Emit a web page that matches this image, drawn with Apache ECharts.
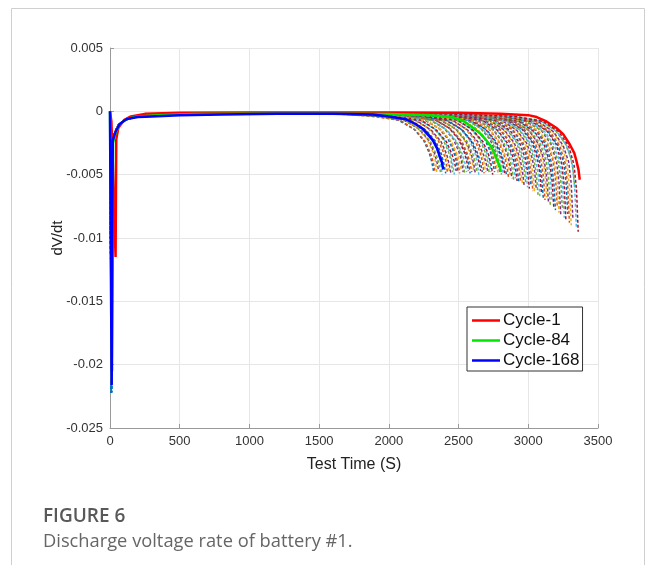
<!DOCTYPE html>
<html>
<head>
<meta charset="utf-8">
<script src="https://cdn.jsdelivr.net/npm/echarts@6/dist/echarts.min.js"></script>
<style>
html,body{margin:0;padding:0;background:#fff;}
#chart{width:657px;height:565px;}
</style>
</head>
<body>
<div id="chart"></div>
<script>
// ---- Axis ticks ----
const xTicks = [0, 500, 1000, 1500, 2000, 2500, 3000, 3500];
const yTicks = [0.005, 0, -0.005, -0.01, -0.015, -0.02, -0.025];

// ---- Highlighted cycles: [time (s), dV/dt] ----
const cycle1 = [[0,0],[10,-0.0008],[20,-0.004],[30,-0.008],[40,-0.0115],[45,-0.0022],[60,-0.0013],[100,-0.0007],[150,-0.0004],[250,-0.0002],[500,-0.00012],[1000,-0.0001],[1500,-0.0001],[2000,-0.0001],[2500,-0.00012],[2800,-0.0002],[3000,-0.0003],[3060,-0.00045],[3130,-0.0008],[3200,-0.0013],[3250,-0.0018],[3297,-0.0026],[3330,-0.0033],[3345,-0.0039],[3360,-0.0046],[3369,-0.0054]];
const cycle84 = [[0,0],[8,-0.012],[15,-0.0205],[22,-0.0025],[40,-0.0017],[70,-0.001],[120,-0.0006],[200,-0.0004],[350,-0.0003],[600,-0.00022],[1000,-0.0002],[1500,-0.0002],[2000,-0.00022],[2300,-0.0003],[2459,-0.00047],[2540,-0.0008],[2603,-0.0013],[2660,-0.0018],[2700,-0.0023],[2735,-0.0028],[2760,-0.0034],[2782,-0.004],[2796,-0.0044],[2803,-0.0048]];
const cycle168 = [[0,0],[5,-0.01],[12,-0.0216],[20,-0.0023],[40,-0.0016],[70,-0.001],[120,-0.0006],[200,-0.00045],[300,-0.0004],[500,-0.0003],[800,-0.00025],[1200,-0.0002],[1600,-0.0002],[1885,-0.00025],[2004,-0.0004],[2124,-0.00063],[2190,-0.001],[2244,-0.0014],[2285,-0.0019],[2316,-0.0023],[2345,-0.0029],[2366,-0.0036],[2380,-0.004],[2390,-0.0046]];

// ---- Other cycles (dashed) ----
// shared start / flat portion
const dashedEarlyT = [0, 10, 18, 30, 60, 100, 180, 300, 500, 800, 1200, 1600, 2000, 2400];
const dashedEarlyV = [0, -0.021, -0.0022, -0.0018, -0.0011, -0.0007, -0.00045, -0.00032, -0.00025, -0.0002, -0.00018, -0.00018, -0.00019, -0.0002];
const dashedSpikeV = [-0.0222, -0.0208, -0.0212, -0.0205, -0.0215, -0.021, -0.0203];
// knee sample times relative to each cycle's end (s)
const kneeOffsets = [-450, -250, -140, -70, -30, -12, 0];
// end time of each dashed cycle (s)
const dashedEndTimes = [2320,2332,2345,2357,2370,2382,2395,2408,2420,2433,2445,2458,2470,2483,2495,2508,2520,2533,2545,2558,2570,2583,2595,2608,2620,2633,2645,2658,2670,2683,2695,2708,2720,2733,2745,2758,2770,2783,2795,2808,2820,2833,2845,2858,2870,2883,2895,2908,2920,2933,2945,2958,2970,2983,2995,3008,3020,3033,3045,3058,3070,3083,3095,3108,3120,3133,3145,3158,3170,3183,3195,3208,3220,3233,3245,3258,3270,3283,3295,3308,3320,3333,3345,3358];
// knee values of each dashed cycle: magnitude of the (negative) slope, in units of 1e-4 V/s
const dashedKneeE4 = [
  [3,7,14,23,33,40,47],[4,7,15,24,34,41,48],[3,6,13,22,32,39,49],[3,7,14,23,33,40,47],
  [4,7,15,24,34,41,48],[3,6,13,22,32,40,50],[3,7,14,23,33,40,47],[4,7,15,24,34,42,49],
  [3,6,13,22,32,39,48],[3,7,14,23,33,40,47],[4,7,15,24,34,42,49],[3,6,13,22,32,39,48],
  [3,7,14,23,33,41,50],[4,7,15,24,34,40,47],[3,6,13,22,32,39,48],[3,7,14,23,33,41,49],
  [4,7,15,24,34,40,47],[3,6,13,22,32,39,48],[3,7,14,23,33,41,50],[4,7,15,24,34,41,48],
  [3,6,13,22,32,39,47],[3,7,14,23,33,41,49],[4,7,15,24,34,41,48],[3,6,13,22,32,39,47],
  [3,7,14,23,33,41,49],[4,7,15,24,34,41,48],[3,6,13,22,32,40,50],[3,7,14,23,33,40,47],
  [4,7,15,24,34,41,48],[3,6,13,22,32,40,49],[3,7,14,23,33,41,48],[4,7,15,24,34,40,47],
  [3,6,13,22,32,40,49],[3,7,14,23,33,41,48],[4,7,15,24,34,42,50],[3,6,13,22,32,40,48],
  [3,7,14,23,33,40,47],[4,7,15,24,34,41,49],[3,6,13,22,32,40,48],[3,7,14,23,34,42,50],
  [4,7,15,24,34,41,49],[3,7,14,24,35,43,50],[4,7,15,25,36,44,51],[3,7,14,24,35,43,52],
  [4,7,15,25,36,43,51],[3,7,14,24,35,44,53],[4,7,15,25,36,45,54],[3,7,14,24,35,44,53],
  [4,7,15,25,36,45,55],[3,7,14,24,36,46,56],[4,7,15,25,36,45,55],[3,7,14,24,36,46,57],
  [4,7,15,25,37,47,58],[3,7,14,24,36,46,57],[4,7,15,25,37,48,60],[4,7,15,25,37,48,61],
  [3,7,14,24,36,47,59],[4,7,15,25,37,49,63],[3,7,14,24,37,49,64],[4,7,15,25,37,48,62],
  [3,7,14,24,37,50,66],[4,7,15,25,38,50,67],[3,7,14,24,37,49,65],[4,7,15,25,38,51,69],
  [3,7,15,25,38,51,70],[4,7,14,24,37,50,68],[4,8,15,26,39,53,72],[4,8,16,26,39,54,74],
  [4,7,15,25,38,52,71],[4,8,16,26,40,55,76],[4,8,15,26,40,56,78],[4,8,16,26,39,54,75],
  [4,8,16,27,41,57,80],[4,8,15,26,40,57,82],[4,8,16,27,40,55,78],[4,8,16,27,41,58,84],
  [4,8,15,26,41,59,86],[4,8,16,27,40,56,81],[4,8,16,27,41,59,88],[4,8,15,26,41,60,90],
  [4,8,16,27,40,57,85],[4,7,15,25,36,46,60],[4,8,16,27,41,61,92],[4,8,16,27,42,62,95]
];
const dashedColors = ['#0072BD','#D95319','#EDB120','#7E2F8E','#77AC30','#4DBEEE','#A2142F'];

// ---- build series ----
const series = [];
dashedEndTimes.forEach((te, i) => {
  const pts = [];
  const kneeStart = te + kneeOffsets[0];
  dashedEarlyT.forEach((t, j) => {
    if (t < kneeStart) {
      const v = j === 1 ? dashedSpikeV[i % dashedSpikeV.length] : dashedEarlyV[j];
      pts.push([t, v]);
    }
  });
  kneeOffsets.forEach((off, k) => pts.push([te + off, -dashedKneeE4[i][k] / 10000]));
  series.push({
    name: 'cycle-d' + i,
    type: 'line',
    data: pts,
    showSymbol: false,
    symbol: 'none',
    silent: true,
    lineStyle: { color: dashedColors[i % dashedColors.length], width: 1.5, type: [3, 2] },
    z: 2
  });
});
const hl = [
  ['Cycle-1', cycle1, '#FF0000'],
  ['Cycle-84', cycle84, '#00E600'],
  ['Cycle-168', cycle168, '#0000FF']
];
hl.forEach(([n, d, c], i) => {
  series.push({
    name: n, type: 'line', data: d, symbol: 'none', showSymbol: false,
    lineStyle: { color: c, width: 2.5 }, itemStyle: { color: c }, z: 5 + i
  });
});

const FONT = 'Liberation Sans, Arial, sans-serif';
const chart = echarts.init(document.getElementById('chart'), null, { renderer: 'canvas' });
chart.setOption({
  animation: false,
  backgroundColor: '#fff',
  grid: { left: 110, right: 59, top: 48, bottom: 137, containLabel: false },
  legend: {
    data: ['Cycle-1', 'Cycle-84', 'Cycle-168'],
    orient: 'vertical',
    left: 467, top: 307,
    backgroundColor: '#fff',
    borderColor: '#333', borderWidth: 1,
    padding: [5, 3, 2, 5],
    icon: 'rect',
    itemWidth: 28, itemHeight: 2.5, itemGap: 3,
    textStyle: { fontSize: 17, color: '#111', fontFamily: FONT, padding: [0,0,0,-2] }
  },
  xAxis: {
    type: 'value', min: xTicks[0], max: xTicks[xTicks.length - 1], interval: 500,
    name: 'Test Time (S)', nameLocation: 'middle', nameGap: 29, nameMoveOverlap: false,
    nameTextStyle: { fontSize: 16, color: '#222', fontFamily: FONT },
    axisLine: { show: true, onZero: false, lineStyle: { color: '#9a9a9a', width: 1 } },
    axisTick: { show: true, inside: true, length: 4, lineStyle: { color: '#9a9a9a' } },
    axisLabel: { fontSize: 13, color: '#333', margin: 7, fontFamily: FONT, formatter: v => String(v) },
    splitLine: { show: true, lineStyle: { color: '#e6e6e6', width: 1 } }
  },
  yAxis: {
    type: 'value', min: yTicks[yTicks.length - 1], max: yTicks[0], interval: 0.005,
    name: 'dV/dt', nameLocation: 'middle', nameGap: 45, nameMoveOverlap: false,
    nameTextStyle: { fontSize: 15, color: '#222', fontFamily: FONT },
    axisLine: { show: true, onZero: false, lineStyle: { color: '#9a9a9a', width: 1 } },
    axisTick: { show: true, inside: true, length: 4, lineStyle: { color: '#9a9a9a' } },
    axisLabel: {
      fontSize: 13, color: '#333', margin: 7, fontFamily: FONT,
      formatter: v => { const r = Math.round(v * 1000) / 1000; return r === 0 ? '0' : String(r); }
    },
    splitLine: { show: true, lineStyle: { color: '#e6e6e6', width: 1 } }
  },
  graphic: [
    { type: 'rect', shape: { x: 11.5, y: 8.5, width: 633, height: 600 }, style: { fill: 'none', stroke: '#cfcfcf', lineWidth: 1 }, silent: true, z: -1 },
    { type: 'text', left: 43, top: 507, style: { text: 'FIGURE 6', fontSize: 19, fontWeight: 600, fill: '#595959', fontFamily: 'Open Sans, sans-serif' } },
    { type: 'text', left: 43, top: 533, style: { text: 'Discharge voltage rate of battery #1.', fontSize: 18.3, fill: '#666', fontFamily: 'Open Sans, sans-serif' } }
  ],
  series: series
});
</script>
</body>
</html>
